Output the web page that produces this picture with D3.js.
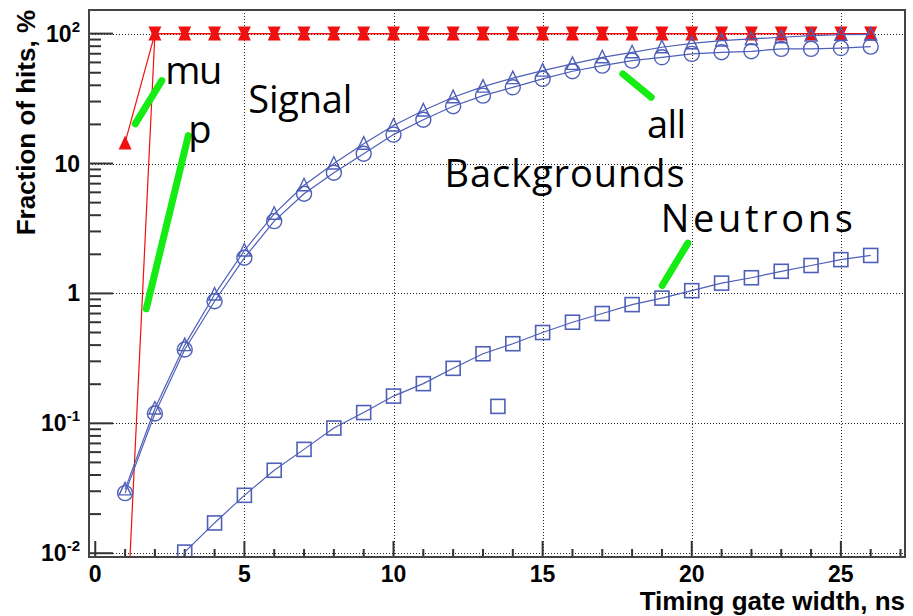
<!DOCTYPE html>
<html><head><meta charset="utf-8">
<script src="https://cdn.jsdelivr.net/npm/d3@7"></script>
<style>body{margin:0;background:#fff}svg{display:block}</style>
</head><body>
<script>
// ---- data ----
const gateWidth = [1,2,3,4,5,6,7,8,9,10,11,12,13,14,15,16,17,18,19,20,21,22,23,24,25,26];
const signalMu = [14.5,100,100,100,100,100,100,100,100,100,100,100,100,100,100,100,100,100,100,100,100,100,100,100,100,100];
const signalP  = [0.0015,100,100,100,100,100,100,100,100,100,100,100,100,100,100,100,100,100,100,100,100,100,100,100,100,100];
const bgAll    = [0.031,0.13,0.40,0.98,2.14,4.1,6.8,10.0,14.2,19.6,25.6,32.4,39.1,45.4,51.9,58.5,65.7,71.8,78.5,84.2,88.3,91,93.8,96.5,98,98.5];
const bgOther  = [0.029,0.119,0.37,0.87,1.88,3.6,5.85,8.5,11.9,16.7,21.7,27.6,33.3,38.6,44.8,51.3,56.7,62,65.7,69.8,71.8,73.1,76.3,76.3,77.4,79.4];
const neutronX = [2,3,4,5,6,7,8,9,10,11,12,13,14,15,16,17,18,19,20,21,22,23,24,25,26];
const neutrons = [0.0014,0.0102,0.0171,0.0279,0.0435,0.063,0.092,0.121,0.162,0.202,0.265,0.343,0.41,0.50,0.60,0.70,0.82,0.92,1.05,1.20,1.32,1.48,1.64,1.82,1.96];
const strayX = [13.5];
const strayY = [0.135];
const xTicks = [0,5,10,15,20,25];
const yTicks = [0.01,0.1,1,10,100];
const yTickBase = ["10","10","1","10","10"];
const yTickExp  = ["-2","-1","","","2"];
const labelText = ["mu","p","Signal","all","Backgrounds","Neutrons"];
const labelX    = [2.35,3.12,5.13,18.5,11.71,18.96];
const labelY    = [41.3,14.3,24.7,15.8,6.65,2.95];
const labelLen  = [57,26,104,39,240,192];
const arrowX1 = [1.34,3.12,17.69,19.87];
const arrowY1 = [20.2,16.4,49.0,2.44];
const arrowX2 = [2.23,1.71,18.64,19.01];
const arrowY2 = [43.5,0.762,32.4,1.15];
const xTitle = "Timing gate width, ns";
const yTitle = "Fraction of hits, %";

// ---- layout ----
const W = 913, H = 616;
const L = 89, R = 905, T = 10, B = 557;
const svg = d3.select("body").append("svg").attr("width", W).attr("height", H);
const x = d3.scaleLinear().domain([-0.21, 27.15]).range([L, R]);
const y = d3.scaleLog().domain([0.00935, 152]).range([B, T]);

svg.append("defs").append("clipPath").attr("id","clip")
  .append("rect").attr("x",L).attr("y",T).attr("width",R-L).attr("height",B-T);

// grid
const grid = svg.append("g").attr("stroke","#222").attr("stroke-width",1).attr("stroke-dasharray","1,2");
grid.selectAll(".gx").data(xTicks.filter(d=>d>0)).join("line")
  .attr("x1",d=>Math.round(x(d))+0.5).attr("x2",d=>Math.round(x(d))+0.5).attr("y1",T).attr("y2",B);
grid.selectAll(".gy").data(yTicks).join("line")
  .attr("y1",d=>Math.round(y(d))+0.5).attr("y2",d=>Math.round(y(d))+0.5).attr("x1",L).attr("x2",R);

// ticks (inside)
const tk = svg.append("g").attr("stroke","#333").attr("stroke-width",2);
const xMinor = d3.range(0, 28, 1);
tk.selectAll(".xm").data(xMinor).join("line")
  .attr("x1",d=>x(d)).attr("x2",d=>x(d)).attr("y1",B).attr("y2",d=>B-(d%5===0?16:8));
const yMinor = [];
[0.01,0.1,1,10,100].forEach(dec=>{for(let k=1;k<=9;k++){const v=dec*k; if(v>=0.00935&&v<=152) yMinor.push(v);}});
tk.selectAll(".ym").data(yMinor).join("line")
  .attr("y1",d=>y(d)).attr("y2",d=>y(d)).attr("x1",L)
  .attr("x2",d=>L+(yTicks.some(t=>Math.abs(t-d)/t<1e-6)?24:12));

const plot = svg.append("g").attr("clip-path","url(#clip)");
const red = "#f01010", blue = "#4e5fb8";

// signal lines
const lineOf = (xs, ys) => d3.line().x((d,i)=>x(xs[i])).y((d,i)=>y(ys[i]))(ys);
plot.append("path").attr("d", lineOf(gateWidth, signalP)).attr("fill","none").attr("stroke",red).attr("stroke-width",1.2);
plot.append("path").attr("d", lineOf(gateWidth, signalMu)).attr("fill","none").attr("stroke",red).attr("stroke-width",1.2);
const triUp = "M-6.5,7L6.5,7L0,-7Z", triDown = "M-6.5,-7L6.5,-7L0,7Z";
plot.selectAll(".mu").data(gateWidth).join("path")
  .attr("transform",(d,i)=>`translate(${x(d)},${y(signalMu[i])})`).attr("d",triUp).attr("fill",red);
plot.selectAll(".p").data(gateWidth).join("path")
  .attr("transform",(d,i)=>`translate(${x(d)},${y(signalP[i])})`).attr("d",triDown).attr("fill",red);

// background lines
plot.append("path").attr("d", lineOf(gateWidth, bgAll)).attr("fill","none").attr("stroke",blue).attr("stroke-width",1.2);
plot.append("path").attr("d", lineOf(gateWidth, bgOther)).attr("fill","none").attr("stroke",blue).attr("stroke-width",1.2);
plot.append("path").attr("d", lineOf(neutronX, neutrons)).attr("fill","none").attr("stroke",blue).attr("stroke-width",1.2);

const openTri = "M-6,5.5L6,5.5L0,-7Z";
plot.selectAll(".ta").data(gateWidth).join("path")
  .attr("transform",(d,i)=>`translate(${x(d)},${y(bgAll[i])})`).attr("d",openTri)
  .attr("fill","none").attr("stroke",blue).attr("stroke-width",1.4);
plot.selectAll(".co").data(gateWidth).join("circle")
  .attr("cx",d=>x(d)).attr("cy",(d,i)=>y(bgOther[i])).attr("r",7.5)
  .attr("fill","none").attr("stroke",blue).attr("stroke-width",1.4);
plot.selectAll(".sq").data(neutronX).join("rect")
  .attr("x",d=>x(d)-7).attr("y",(d,i)=>y(neutrons[i])-7).attr("width",14).attr("height",14)
  .attr("fill","none").attr("stroke",blue).attr("stroke-width",1.6);
plot.selectAll(".st").data(strayX).join("rect")
  .attr("x",d=>x(d)-7).attr("y",(d,i)=>y(strayY[i])-7).attr("width",14).attr("height",14)
  .attr("fill","none").attr("stroke",blue).attr("stroke-width",1.6);

// annotations
svg.append("g").selectAll("line").data(arrowX1).join("line")
  .attr("x1",(d,i)=>x(arrowX1[i])).attr("y1",(d,i)=>y(arrowY1[i]))
  .attr("x2",(d,i)=>x(arrowX2[i])).attr("y2",(d,i)=>y(arrowY2[i]))
  .attr("stroke","#14ec14").attr("stroke-width",7).attr("stroke-linecap","round");
svg.append("g").selectAll("text").data(labelText).join("text")
  .attr("x",(d,i)=>x(labelX[i])).attr("y",(d,i)=>y(labelY[i]))
  .attr("font-family","'Open Sans', sans-serif").attr("font-size",38).attr("fill","#000")
  .attr("textLength",(d,i)=>labelLen[i]).attr("lengthAdjust","spacing")
  .text(d=>d);

// frame
svg.append("rect").attr("x",L).attr("y",T).attr("width",R-L).attr("height",B-T)
  .attr("fill","none").attr("stroke","#444").attr("stroke-width",2);

// tick labels
const fnt = "'Liberation Sans', Arial, sans-serif";
svg.append("g").selectAll("text").data(xTicks).join("text")
  .attr("x",d=>x(d)).attr("y",582).attr("text-anchor","middle")
  .attr("font-family",fnt).attr("font-weight","bold").attr("font-size",23).text(d=>d);
const yl = svg.append("g").selectAll("text").data(yTicks).join("text")
  .attr("x",80).attr("y",d=>y(d)+8).attr("text-anchor","end")
  .attr("font-family",fnt).attr("font-weight","bold").attr("font-size",23);
yl.append("tspan").text((d,i)=>yTickBase[i]);
yl.append("tspan").attr("font-size",15).attr("dy",-10).text((d,i)=>yTickExp[i]);

// titles
svg.append("text").attr("x",905).attr("y",610).attr("text-anchor","end")
  .attr("font-family",fnt).attr("font-weight","bold").attr("font-size",26).text(xTitle);
svg.append("text").attr("transform","translate(35,10) rotate(-90)").attr("text-anchor","end")
  .attr("font-family",fnt).attr("font-weight","bold").attr("font-size",26).text(yTitle);
</script>
</body></html>
